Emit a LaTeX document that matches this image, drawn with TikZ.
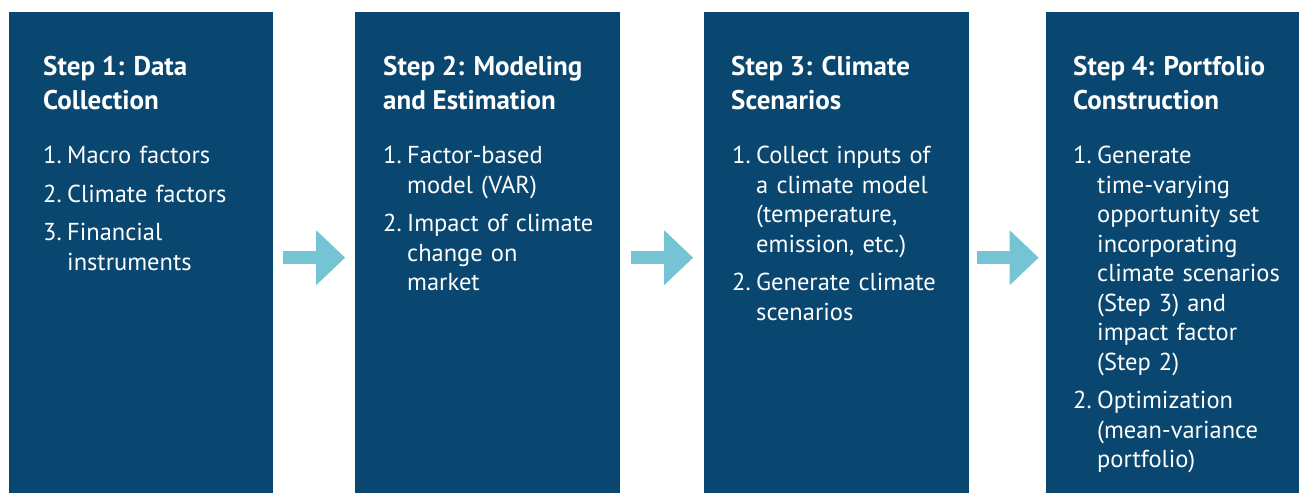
\documentclass[tikz,border=0pt]{standalone}
\usepackage{fontspec}
\setmainfont{PT Sans}
\usetikzlibrary{calc,positioning,arrows.meta}
\definecolor{stepblue}{HTML}{0A4770}
\definecolor{flowcyan}{HTML}{74C4D4}
\newcommand{\stepitem}[2]{\hangindent=24pt\hangafter=1\noindent\makebox[24pt][l]{#1}#2\par\vspace{9pt}}

\tikzset{
  stepbox/.style={fill=stepblue,draw=none,anchor=north west,inner sep=0pt,minimum height=481pt},
  steptitle/.style={anchor=base west,inner sep=0pt,text=white,align=left,
    font=\fontsize{27}{34.5}\selectfont\bfseries},
  steplist/.style={anchor=base west,inner sep=0pt,text=white,text width=245pt,align=left,
    font=\fontsize{24.5}{29.5}\selectfont},
  flow/.style={draw=flowcyan,line width=13pt,-{Triangle[length=29pt,width=53pt]}}
}

\begin{document}
\begin{tikzpicture}[x=1pt,y=1pt]
  \useasboundingbox (0,0) rectangle (1299,493);

  \node[stepbox,minimum width=264pt] (step1) at (9,481) {};
  \node[stepbox,minimum width=265pt] (step2) at (355,481) {};
  \node[stepbox,minimum width=265pt] (step3) at (704,481) {};
  \node[stepbox,minimum width=253pt] (step4) at (1046,481) {};

  % titles sit on the baseline of their second line
  \node[steptitle] (title1) at (43,383) {Step 1: Data\\Collection};
  \node[steptitle] (title2) at (383,383) {Step 2: Modeling\\and Estimation};
  \node[steptitle] (title3) at (731,383) {Step 3: Climate\\Scenarios};
  \node[steptitle] (title4) at (1073,383) {Step 4: Portfolio\\Construction};

  \node[steplist] (list1) at (43,329) {%
    \stepitem{1.}{Macro factors}
    \stepitem{2.}{Climate factors}
    \stepitem{3.}{Financial\newline instruments}};
  \node[steplist] (list2) at (383,329) {%
    \stepitem{1.}{Factor-based\newline model (VAR)}
    \stepitem{2.}{Impact of climate\newline change on\newline market}};
  \node[steplist] (list3) at (732,329) {%
    \stepitem{1.}{Collect inputs of\newline a climate model\newline (temperature,\newline emission, etc.)}
    \stepitem{2.}{Generate climate\newline scenarios}};
  \node[steplist] (list4) at (1073,329) {%
    \stepitem{1.}{Generate\newline time-varying\newline opportunity set\newline incorporating\newline climate scenarios\newline (Step 3) and\newline impact factor\newline (Step 2)}
    \stepitem{2.}{Optimization\newline (mean-variance\newline portfolio)}};

  % flow arrows between the steps
  \draw[flow] ($(step1.east)!0.5!(step2.west)+(-31,-5)$) -- ($(step1.east)!0.5!(step2.west)+(31,-5)$);
  \draw[flow] ($(step2.east)!0.5!(step3.west)+(-31,-5)$) -- ($(step2.east)!0.5!(step3.west)+(31,-5)$);
  \draw[flow] ($(step3.east)!0.5!(step4.west)+(-31,-5)$) -- ($(step3.east)!0.5!(step4.west)+(31,-5)$);
\end{tikzpicture}
\end{document}
